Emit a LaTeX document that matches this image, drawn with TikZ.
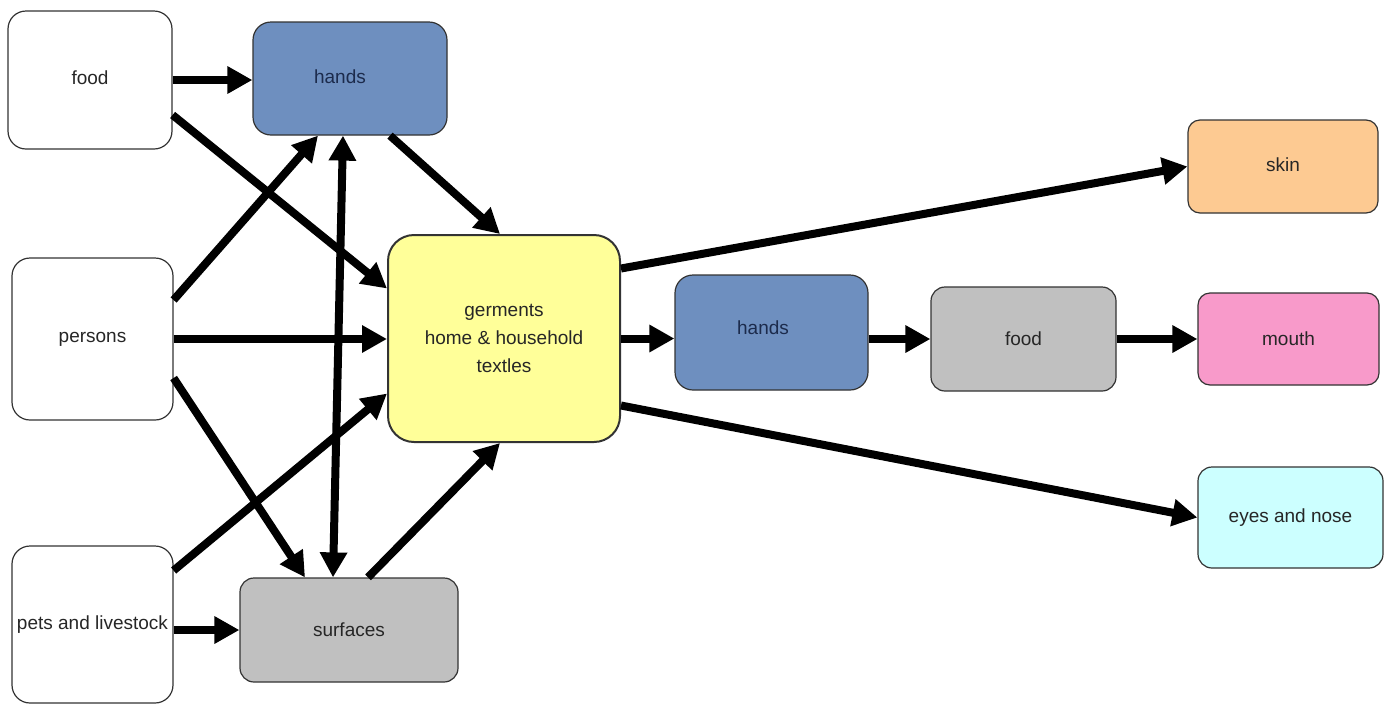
\documentclass[tikz,border=0pt]{standalone}
\usepackage{fontspec}
\setmainfont{Liberation Sans}
\usetikzlibrary{arrows.meta}
\definecolor{handblue}{HTML}{6E8FBF}
\definecolor{boxgray}{HTML}{C0C0C0}
\definecolor{germyellow}{HTML}{FFFF99}
\definecolor{skinorange}{HTML}{FDCA92}
\definecolor{mouthpink}{HTML}{F89ACA}
\definecolor{eyecyan}{HTML}{CCFFFF}
\definecolor{navytext}{HTML}{1C2B4C}
\definecolor{edgegray}{HTML}{333333}
\begin{document}
\begin{tikzpicture}[x=1pt,y=-1pt,
  box/.style={draw=edgegray, line width=1.2pt, rounded corners=18pt, inner sep=0pt,
    align=center, font=\fontsize{19}{28}\selectfont, text=black!85},
  arr/.style={line width=8pt, -{Triangle[length=25pt,width=26pt]}},
  darr/.style={line width=8pt, {Triangle[length=25pt,width=26pt]}-{Triangle[length=25pt,width=26pt]}}]
\fill[white] (0,0) rectangle (1387,705);
\useasboundingbox (0,0) rectangle (1387,705);
% nodes
\node[box, fill=white, minimum width=164pt, minimum height=138pt] (foodL) at (90,80) {\raisebox{4pt}{food}};
\node[box, fill=handblue, text=navytext, minimum width=194pt, minimum height=113pt] (handsT) at (350,78.5) {\hspace*{-20pt}\raisebox{4pt}{hands}};
\node[box, fill=white, minimum width=161pt, minimum height=162pt] (persons) at (92.5,339) {persons};
\node[box, fill=white, minimum width=161pt, minimum height=157pt] (pets) at (92.5,624.5) {pets and livestock};
\node[box, fill=boxgray, rounded corners=14pt, minimum width=218pt, minimum height=104pt] (surfaces) at (349,630) {surfaces};
\node[box, fill=germyellow, line width=2pt, rounded corners=26pt, minimum width=232pt, minimum height=207pt] (germ) at (504,338.5) {germents\\home \& household\\textles};
\node[box, fill=handblue, text=navytext, minimum width=193pt, minimum height=115pt] (handsM) at (771.5,332.5) {\hspace*{-17pt}\raisebox{9pt}{hands}};
\node[box, fill=boxgray, rounded corners=14pt, minimum width=185pt, minimum height=104pt] (foodM) at (1023.5,339) {food};
\node[box, fill=skinorange, rounded corners=12pt, minimum width=190pt, minimum height=93pt] (skin) at (1283,166.5) {\raisebox{3pt}{skin}};
\node[box, fill=mouthpink, rounded corners=12pt, minimum width=181pt, minimum height=92pt] (mouth) at (1288.5,339) {mouth};
\node[box, fill=eyecyan, rounded corners=14pt, minimum width=185pt, minimum height=101pt] (eyes) at (1290.5,517.5) {eyes and nose};
% connectors
\draw[arr] (foodL.east) -- (foodL.east -| handsT.west);
\draw[arr] ([yshift=-35pt]foodL.east) -- ([yshift=50pt]germ.west);
\draw[arr] ([yshift=39pt]persons.east) -- ([xshift=-32pt]handsT.south);
\draw[arr] (persons.east) -- (persons.east -| germ.west);
\draw[arr] ([yshift=-39pt]persons.east) -- ([xshift=-44pt]surfaces.north);
\draw[arr] ([yshift=54pt]pets.east) -- ([yshift=-55pt]germ.west);
\draw[arr] (pets.east |- surfaces.west) -- (surfaces.west);
\draw[darr] ([xshift=-7pt]handsT.south) -- ([xshift=-16pt]surfaces.north);
\draw[arr] ([xshift=40pt]handsT.south) -- ([xshift=-4pt]germ.north);
\draw[arr] ([xshift=19pt]surfaces.north) -- ([xshift=-4pt]germ.south);
\draw[arr] ([yshift=70pt]germ.east) -- (skin.west);
\draw[arr] (germ.east) -- (germ.east -| handsM.west);
\draw[arr] ([yshift=-67pt]germ.east) -- (eyes.west);
\draw[arr] (foodM.west -| handsM.east) -- (foodM.west);
\draw[arr] (foodM.east) -- (mouth.west);
\end{tikzpicture}
\end{document}
